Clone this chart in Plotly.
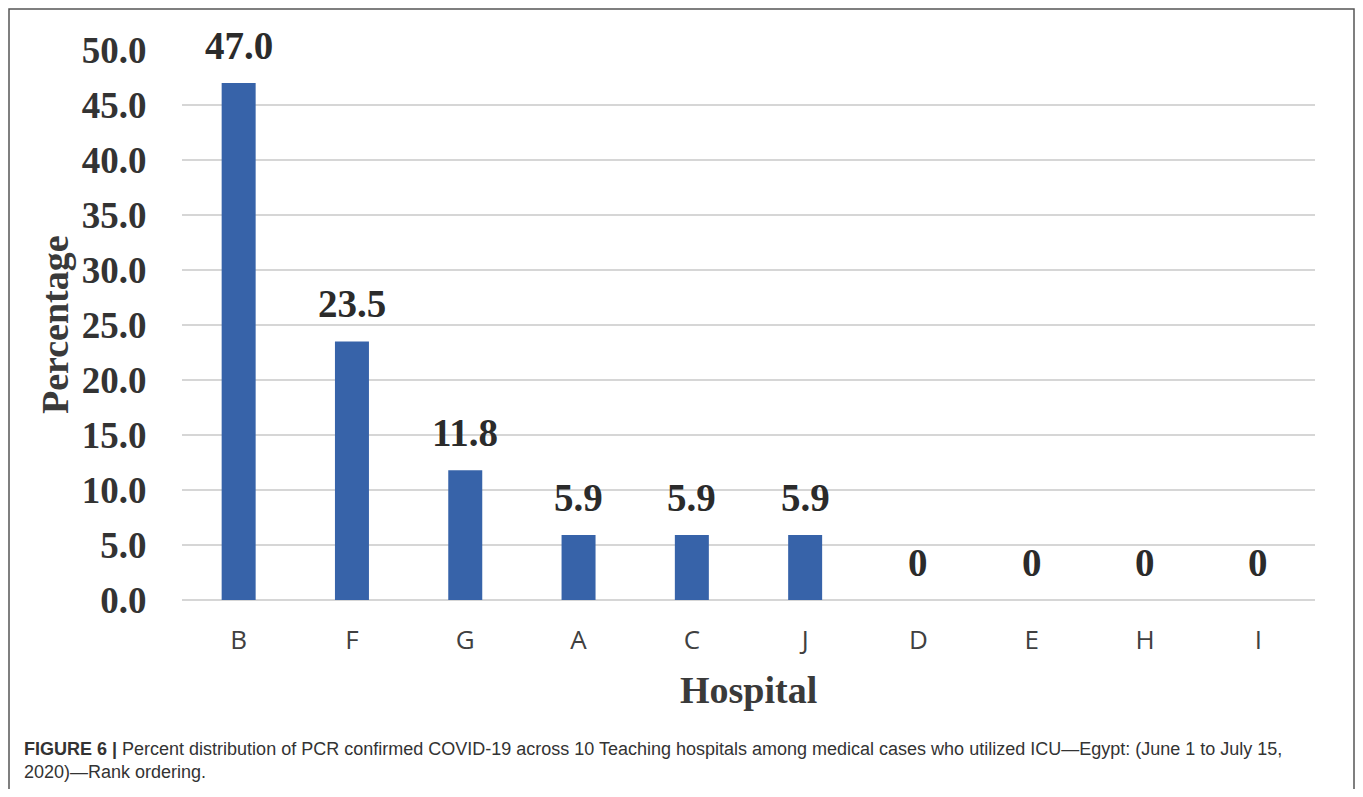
import plotly.graph_objects as go

hospitals = ["B", "F", "G", "A", "C", "J", "D", "E", "H", "I"]
percentages = [47.0, 23.5, 11.8, 5.9, 5.9, 5.9, 0, 0, 0, 0]
value_labels = ["47.0", "23.5", "11.8", "5.9", "5.9", "5.9", "0", "0", "0", "0"]
y_ticks = [0, 5, 10, 15, 20, 25, 30, 35, 40, 45, 50]

# page has an 8px body margin; figure coordinates = page coordinates - 8
W, H = 1347, 781
L, R, T, B = 174, 40, 42, 189
pw, ph = W - L - R, H - T - B

def px_x(x):
    return (x - L) / pw

def px_y(y):
    return (H - B - y) / ph

fig = go.Figure()
fig.add_trace(go.Bar(
    x=hospitals, y=percentages,
    marker=dict(color="#3763A9", line=dict(width=0)),
    hoverinfo="skip",
))

serif = "Liberation Serif, Times New Roman, serif"
for h, v, lab in zip(hospitals, percentages, value_labels):
    fig.add_annotation(
        x=h, y=v, xref="x", yref="y", text=lab, showarrow=False,
        yanchor="middle", yshift=38,
        font=dict(family=serif, size=39, color="#2b2b2b", weight="bold"),
    )

fig.add_annotation(
    x=0.5, y=0, xref="paper", yref="paper", text="Hospital", showarrow=False,
    xanchor="center", yanchor="middle", yshift=-90,
    font=dict(family=serif, size=38, color="#3a3a3a", weight="bold"),
)
fig.add_annotation(
    x=0, y=0.5, xref="paper", yref="paper", text="Percentage", showarrow=False,
    xanchor="center", yanchor="middle", xshift=-127, textangle=-90,
    font=dict(family=serif, size=38, color="#3a3a3a", weight="bold"),
)

fig.add_annotation(
    x=px_x(14), y=px_y(729), xref="paper", yref="paper",
    text="<b>FIGURE 6 |</b> Percent distribution of PCR confirmed COVID-19 across 10 Teaching hospitals among medical cases who utilized ICU\u2014Egypt: (June 1 to July 15,<br>2020)\u2014Rank ordering.",
    showarrow=False, xanchor="left", yanchor="top", align="left",
    font=dict(family="Liberation Sans, Arial, sans-serif", size=18, color="#333333"),
)

fig.add_shape(
    type="path", xref="paper", yref="paper",
    path=f"M {px_x(1)} {px_y(H)} L {px_x(1)} {px_y(1)} L {px_x(1346)} {px_y(1)} L {px_x(1346)} {px_y(H)}",
    line=dict(color="#555555", width=1.5),
)

fig.update_layout(
    width=W, height=H,
    margin=dict(l=L, r=R, t=T, b=B, autoexpand=False),
    paper_bgcolor="white", plot_bgcolor="white",
    bargap=0.7, showlegend=False,
    xaxis=dict(
        showgrid=False, showline=False, zeroline=False,
        tickfont=dict(family="Open Sans, Noto Sans, sans-serif", size=26, color="#404040"),
        ticks="outside", ticklen=17, tickcolor="rgba(0,0,0,0)",
    ),
    yaxis=dict(
        range=[0, 50], tickvals=y_ticks, tickformat=".1f",
        showgrid=True, gridcolor="#d6d6d6", gridwidth=2,
        zeroline=True, zerolinecolor="#d6d6d6", zerolinewidth=2,
        showline=False,
        tickfont=dict(family=serif, size=37, color="#333333", weight="bold"),
        ticks="outside", ticklen=27, tickcolor="rgba(0,0,0,0)",
    ),
)

fig.write_html("out.html")
